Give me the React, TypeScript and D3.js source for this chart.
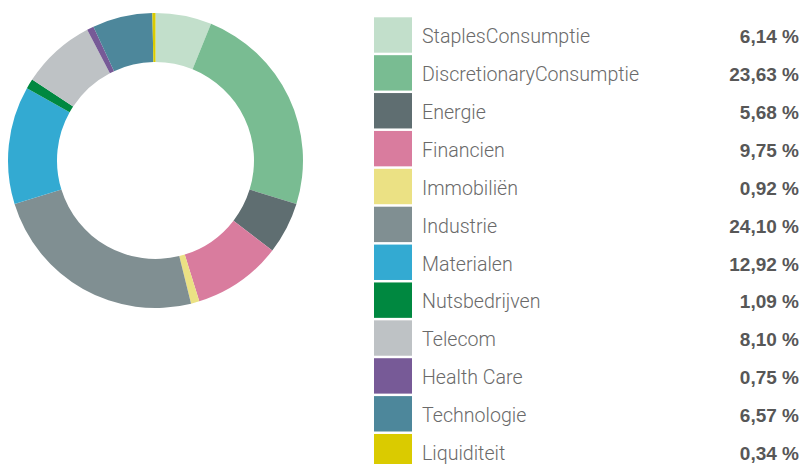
import React from "react";
import * as d3 from "d3";

const categories = [
  "StaplesConsumptie",
  "DiscretionaryConsumptie",
  "Energie",
  "Financien",
  "Immobiliën",
  "Industrie",
  "Materialen",
  "Nutsbedrijven",
  "Telecom",
  "Health Care",
  "Technologie",
  "Liquiditeit",
];
const values = [6.14, 23.63, 5.68, 9.75, 0.92, 24.1, 12.92, 1.09, 8.1, 0.75, 6.57, 0.34];
const colors = [
  "#c2dfcb",
  "#79bc92",
  "#5f6e71",
  "#d97c9e",
  "#ebe184",
  "#808f92",
  "#33aad2",
  "#008840",
  "#bec2c5",
  "#775a97",
  "#4d879b",
  "#dacb00",
];

const W = 803;
const H = 464;

export default function App() {
  const cx = 155.5;
  const cy = 160.5;
  const outer = 147.5;
  const inner = 98.5;
  const pie = d3.pie<number>().sort(null).value((d) => d)(values);
  const arc = d3.arc<d3.PieArcDatum<number>>().innerRadius(inner).outerRadius(outer);
  const fmt = (v: number) => v.toFixed(2).replace(".", ",") + "\u00a0%";

  return (
    <div style={{ position: "absolute", left: 0, top: 0 }}>
      <svg width={W} height={H} style={{ display: "block" }}>
        <rect width={W} height={H} fill="#fff" />
        <g transform={`translate(${cx},${cy})`}>
          {pie.map((p, i) => (
            <path key={i} d={arc(p) || ""} fill={colors[i]} />
          ))}
        </g>
        <g>
          {categories.map((c, i) => {
            const y0 = 17.3 + 37.88 * i;
            return (
              <g key={c}>
                <rect x={374} y={y0} width={38} height={35.4} fill={colors[i]} />
                <text x={422} y={y0 + 26} fontFamily="Roboto, 'Liberation Sans', sans-serif" fontWeight={300} fontSize={19.6} fill="#6a6a6a">
                  {c}
                </text>
                <text x={799} y={y0 + 26} textAnchor="end" fontFamily="'Liberation Sans', Arial, sans-serif" fontWeight={700} fontSize={19} fill="#575757">
                  {fmt(values[i])}
                </text>
              </g>
            );
          })}
        </g>
      </svg>
    </div>
  );
}
